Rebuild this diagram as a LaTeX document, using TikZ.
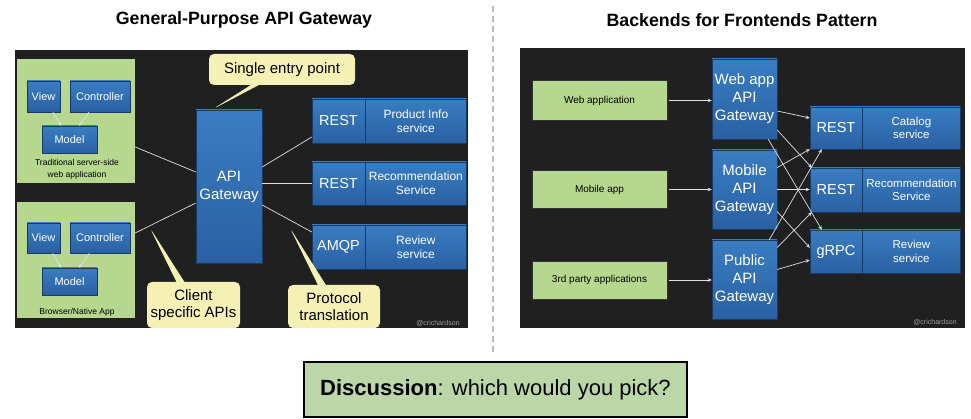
\documentclass[tikz,border=0pt]{standalone}
\usepackage{fontspec}
\setmainfont{Liberation Sans}
\usetikzlibrary{positioning,shapes.callouts,arrows.meta}

\definecolor{panelbg}{HTML}{202020}
\definecolor{slidegreen}{HTML}{B5D78E}
\definecolor{notegreen}{HTML}{BBD7A8}
\definecolor{calloutyellow}{HTML}{F5F1B5}
\definecolor{bluetop}{HTML}{3A7DC2}
\definecolor{bluebot}{HTML}{2A60A3}
\definecolor{linkgray}{HTML}{E0E0E0}

\begin{document}
\begin{tikzpicture}[x=1pt,y=-1pt,
  every node/.style={inner sep=0pt, align=center},
  client/.style={fill=slidegreen},
  clientbox/.style={fill=slidegreen, draw=black!80, font=\fontsize{10}{12}\selectfont},
  blk/.style={top color=bluetop, bottom color=bluebot, draw=bluebot!60!black, text=white},
  link/.style={draw=linkgray, line width=0.7pt},
  arr/.style={link, -{Stealth[length=4pt,width=3.5pt]}},
  note/.style={rectangle callout, fill=calloutyellow, rounded corners=5pt,
    callout pointer width=8pt, font=\fontsize{15}{17}\selectfont},
  wmark/.style={text=gray!75, font=\fontsize{7}{8}\selectfont}
]
\useasboundingbox (0,0) rectangle (971,419);

% Titles and divider
\node[font=\bfseries\fontsize{17.8}{20}\selectfont] (ltitle) at (244,20) {General-Purpose API Gateway};
\node[font=\bfseries\fontsize{17.8}{20}\selectfont] (rtitle) at (742,20) {Backends for Frontends Pattern};
\coordinate (divtop) at (493,6);
\coordinate (divbot) at (493,356);
\draw[gray!55, line width=2.5pt, dash pattern=on 6pt off 4pt] (divtop) -- (divbot);

% Panels
\fill[panelbg] (15,50) rectangle (468,328);
\fill[panelbg] (520,48) rectangle (965,328);

% Left panel: client applications
\node[client, minimum width=118pt, minimum height=124pt] (trad) at (76,121) {};
\node[blk, minimum width=33pt, minimum height=31pt, font=\fontsize{11}{13}\selectfont] (view1) at (43.5,96.5) {View};
\node[blk, minimum width=60pt, minimum height=31pt, font=\fontsize{11}{13}\selectfont] (ctrl1) at (100,96.5) {Controller};
\node[blk, minimum width=55pt, minimum height=27pt, font=\fontsize{11}{13}\selectfont] (model1) at (69.5,139.5) {Model};
\node[font=\fontsize{8.5}{12}\selectfont] (tradlbl) at (77,169) {Traditional server-side\\web application};
\draw[arr] (view1) -- (model1);
\draw[arr] (ctrl1) -- (model1);

\node[client, minimum width=118pt, minimum height=116pt] (native) at (76,260) {};
\node[blk, minimum width=33pt, minimum height=30pt, font=\fontsize{11}{13}\selectfont] (view2) at (43.5,238) {View};
\node[blk, minimum width=60pt, minimum height=30pt, font=\fontsize{11}{13}\selectfont] (ctrl2) at (100,238) {Controller};
\node[blk, minimum width=55pt, minimum height=27pt, font=\fontsize{11}{13}\selectfont] (model2) at (69.5,281.5) {Model};
\node[font=\fontsize{8.5}{10}\selectfont] (nativelbl) at (77,312) {Browser/Native App};
\draw[arr] (view2) -- (model2);
\draw[arr] (ctrl2) -- (model2);

% Left panel: gateway and services
\node[blk, minimum width=66pt, minimum height=153pt, font=\fontsize{15}{18}\selectfont] (gw) at (229,186.5) {API\\Gateway};

\node[blk, minimum width=53pt, minimum height=44pt, font=\fontsize{14.5}{16}\selectfont] (rest1) at (338.5,121) {REST};
\node[blk, minimum width=101pt, minimum height=44pt, font=\fontsize{12}{14}\selectfont, right=0pt of rest1] (prodsvc) {Product Info\\service};
\node[blk, minimum width=53pt, minimum height=43pt, font=\fontsize{14.5}{16}\selectfont] (rest2) at (338.5,183.5) {REST};
\node[blk, minimum width=101pt, minimum height=43pt, font=\fontsize{12}{14}\selectfont, right=0pt of rest2] (recsvc1) {Recommendation\\Service};
\node[blk, minimum width=53pt, minimum height=44pt, font=\fontsize{14.5}{16}\selectfont] (amqp) at (338.5,247) {AMQP};
\node[blk, minimum width=101pt, minimum height=44pt, font=\fontsize{12}{14}\selectfont, right=0pt of amqp] (revsvc1) {Review\\service};

\draw[link] ([yshift=-26pt]trad.east) -- ([yshift=14.5pt]gw.west);
\draw[link] ([yshift=27pt]native.east) -- ([yshift=-16.5pt]gw.west);
\draw[link] ([yshift=19.5pt]gw.east) -- ([yshift=-16pt]rest1.west);
\draw[link] (gw.east |- rest2) -- (rest2.west);
\draw[link] ([yshift=-18.5pt]gw.east) -- ([yshift=15pt]amqp.west);

% Callouts
\coordinate (tipentry) at (213,109);
\coordinate (tipclient) at (150,228);
\coordinate (tipproto) at (290,228);
\node[note, minimum width=146pt, minimum height=31pt, callout absolute pointer={(tipentry)}] (entry) at (282,69.5) {Single entry point};
\node[note, minimum width=93pt, minimum height=46pt, callout absolute pointer={(tipclient)}] (clientapi) at (193.5,305) {Client\\specific APIs};
\node[note, minimum width=92pt, minimum height=43pt, callout absolute pointer={(tipproto)}] (proto) at (334,306.5) {Protocol\\translation};

\node[wmark] (wm1) at (438,323) {@crichardson};

% Right panel: clients
\node[clientbox, minimum width=135pt, minimum height=40pt] (webapp) at (599.5,100.5) {Web application};
\node[clientbox, minimum width=135pt, minimum height=38pt] (mobapp) at (599.5,189.5) {Mobile app};
\node[clientbox, minimum width=135pt, minimum height=38pt] (thirdapp) at (599.5,280) {3rd party applications};

% Right panel: one gateway per client
\node[blk, minimum width=65pt, minimum height=80pt, font=\fontsize{15}{18}\selectfont] (wgw) at (744.5,99) {Web app\\API\\Gateway};
\node[blk, minimum width=65pt, minimum height=79pt, font=\fontsize{15}{18}\selectfont] (mgw) at (744.5,189.5) {Mobile\\API\\Gateway};
\node[blk, minimum width=65pt, minimum height=79pt, font=\fontsize{15}{18}\selectfont] (pgw) at (744.5,279.5) {Public\\API\\Gateway};

\draw[arr] ([xshift=2pt]webapp.east) -- (wgw.west |- webapp.east);
\draw[arr] ([xshift=2pt]mobapp.east) -- (mgw.west |- mobapp.east);
\draw[arr] ([xshift=2pt]thirdapp.east) -- (pgw.west |- thirdapp.east);

% Right panel: services
\node[blk, minimum width=52pt, minimum height=42pt, font=\fontsize{14.5}{16}\selectfont] (cat) at (836,128) {REST};
\node[blk, minimum width=98pt, minimum height=42pt, font=\fontsize{11.5}{13.5}\selectfont, right=0pt of cat] (catsvc) {Catalog\\service};
\node[blk, minimum width=52pt, minimum height=44pt, font=\fontsize{14.5}{16}\selectfont] (rec) at (836,190) {REST};
\node[blk, minimum width=98pt, minimum height=44pt, font=\fontsize{11.5}{13.5}\selectfont, right=0pt of rec] (recsvc2) {Recommendation\\Service};
\node[blk, minimum width=52pt, minimum height=43pt, font=\fontsize{14.5}{16}\selectfont] (grpc) at (836,251.5) {gRPC};
\node[blk, minimum width=98pt, minimum height=43pt, font=\fontsize{11.5}{13.5}\selectfont, right=0pt of grpc] (revsvc2) {Review\\service};

% every gateway talks to every service
\draw[arr] ([yshift=-12pt]wgw.east) -- ([yshift=10pt]cat.west);
\draw[arr] ([yshift=-31pt]wgw.east) -- ([xshift=2pt]rec.north west);
\draw[arr] ([xshift=-9pt]wgw.south east) -- ([xshift=12pt]grpc.north west);
\draw[arr] ([yshift=22pt]mgw.east) -- (cat.south west);
\draw[arr] (mgw.east) -- (mgw.east -| rec.west);
\draw[arr] ([yshift=-22pt]mgw.east) -- ([yshift=-18pt]grpc.north west);
\draw[arr] ([xshift=-8pt]pgw.north east) -- ([xshift=12pt]cat.south west);
\draw[arr] ([yshift=32pt]pgw.east) -- ([xshift=2pt]rec.south west);
\draw[arr] ([yshift=10pt]pgw.east) -- ([yshift=-8.5pt]grpc.west);

\node[wmark] (wm2) at (935,322) {@crichardson};

% Discussion prompt
\node[fill=notegreen, draw=black, line width=1.2pt, minimum width=383pt, minimum height=55pt,
  font=\fontsize{22}{25}\selectfont] (discuss) at (495.5,389.5) {\textbf{Discussion}: which would you pick?};

\end{tikzpicture}
\end{document}
